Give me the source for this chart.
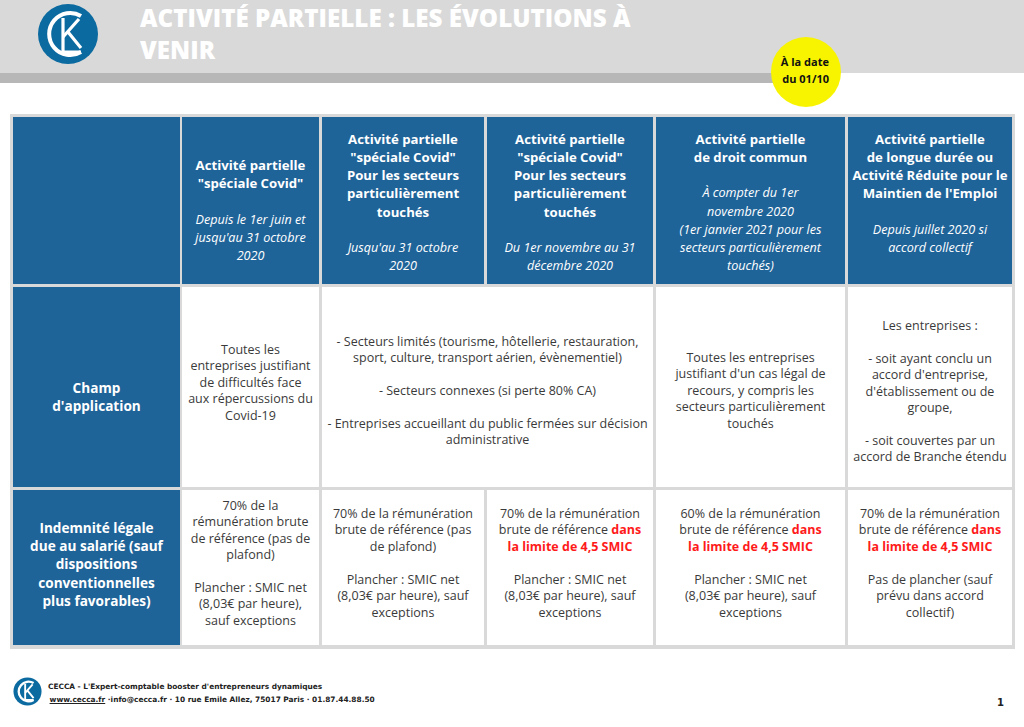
<!DOCTYPE html>
<html lang="fr">
<head>
<meta charset="utf-8">
<title>Activité partielle : les évolutions à venir</title>
<script src="https://cdn.jsdelivr.net/npm/chart.js@4/dist/chart.umd.min.js"></script>
<style>
  html, body { margin: 0; padding: 0; background: #fff; }
  body { width: 1024px; height: 727px; position: relative; overflow: hidden; font-family: "Open Sans", sans-serif; }
  .band { position: absolute; left: 0; top: 0; width: 1024px; height: 73px; background: #d9d9d9; }
  .strip { position: absolute; left: 0; top: 73px; width: 790px; height: 10px; background: #b7b7b7; }
  .title { position: absolute; left: 140px; top: 2px; color: #fff; font-weight: 800; font-size: 24.2px; line-height: 32px; }
  .badge { position: absolute; left: 771px; top: 37px; width: 70px; height: 70px; border-radius: 50%; background: #f8f400;
           font-weight: 700; font-size: 11px; line-height: 17px; color: #111; text-align: right; box-sizing: border-box; padding: 16px 12px 0 0; }
  .grid { position: absolute; left: 10px; top: 114px; width: 1005px; height: 535px; background: #d9d9d9; }
  .cell { position: absolute; display: flex; align-items: center; justify-content: center; text-align: center; box-sizing: border-box; }
  .head { background: #1f6499; color: #fff; }
  .body { background: #fff; color: #3a3a3a; font-size: 12.5px; line-height: 16.4px; }
  .ht { font-weight: 700; font-size: 13.2px; line-height: 18.2px; }
  .hd { font-style: italic; font-size: 12.6px; line-height: 18.2px; }
  .rl { font-weight: 700; font-size: 13.6px; line-height: 18.2px; }
  .red { color: #ff1a1a; font-weight: 700; }
  .foot { position: absolute; font-family: "DejaVu Sans", sans-serif; font-weight: 700; font-size: 7.4px; color: #222; white-space: pre; }
  .foot u { text-decoration: underline; }
  .page { position: absolute; left: 997px; top: 697px; font-family: "DejaVu Sans", sans-serif; font-weight: 700; font-size: 10px; color: #222; }
  canvas#c { position: absolute; left: 0; top: 0; width: 1px; height: 1px; opacity: 0; }
</style>
</head>
<body>
<div class="band"></div>
<div class="strip"></div>

<svg style="position:absolute;left:37px;top:3px" width="62" height="62" viewBox="0 0 62 62">
  <circle cx="31" cy="31" r="30" fill="#0b6aa0"/>
  <path d="M44 13 A21 21 0 1 0 44 49" fill="none" stroke="#fff" stroke-width="4"/>
  <path d="M26 15 L26 49 L44 49" fill="none" stroke="#fff" stroke-width="3.2"/>
  <path d="M26 34 L42 16 M31 29 L44 45" fill="none" stroke="#fff" stroke-width="3.2"/>
</svg>

<div class="title" id="title"></div>
<div class="badge" id="badge"></div>

<div class="grid" id="grid"></div>

<svg style="position:absolute;left:13px;top:677px" width="29" height="29" viewBox="0 0 62 62">
  <circle cx="31" cy="31" r="30" fill="#0b6aa0"/>
  <path d="M44 13 A21 21 0 1 0 44 49" fill="none" stroke="#fff" stroke-width="5"/>
  <path d="M26 15 L26 49 L44 49" fill="none" stroke="#fff" stroke-width="4"/>
  <path d="M26 34 L42 16 M31 29 L44 45" fill="none" stroke="#fff" stroke-width="4"/>
</svg>
<div class="foot" id="foot1" style="left:48px;top:682px"></div>
<div class="foot" id="foot2" style="left:47px;top:695px"></div>
<div class="page">1</div>
<canvas id="c"></canvas>

<script>
// page texts
var titleLines = ["ACTIVITÉ PARTIELLE : LES ÉVOLUTIONS À", "VENIR"];
var badgeLines = ["À la date", "du 01/10"];

// column headers (title lines, then italic date lines)
var headTitles = [
  ["Activité partielle", "\"spéciale Covid\""],
  ["Activité partielle", "\"spéciale Covid\"", "Pour les secteurs", "particulièrement", "touchés"],
  ["Activité partielle", "\"spéciale Covid\"", "Pour les secteurs", "particulièrement", "touchés"],
  ["Activité partielle", "de droit commun"],
  ["Activité partielle", "de longue durée ou", "Activité Réduite pour le", "Maintien de l'Emploi"]
];
var headDates = [
  ["Depuis le 1er juin et", "jusqu'au 31 octobre", "2020"],
  ["Jusqu'au 31 octobre", "2020"],
  ["Du 1er novembre au 31", "décembre 2020"],
  ["À compter du 1er", "novembre 2020", "(1er janvier 2021 pour les", "secteurs particulièrement", "touchés)"],
  ["Depuis juillet 2020 si", "accord collectif"]
];

// row labels
var rowLabels = [
  ["Champ", "d'application"],
  ["Indemnité légale", "due au salarié (sauf", "dispositions", "conventionnelles", "plus favorables)"]
];

// "Champ d'application" row: cols 3 and 4 share one cell
var champCells = [
  ["Toutes les", "entreprises justifiant", "de difficultés face", "aux répercussions du", "Covid-19"],
  ["- Secteurs limités (tourisme, hôtellerie, restauration,", "sport, culture, transport aérien, évènementiel)", "",
   "- Secteurs connexes (si perte 80% CA)", "",
   "- Entreprises accueillant du public fermées sur décision", "administrative"],
  ["Toutes les entreprises", "justifiant d'un cas légal de", "recours, y compris les", "secteurs particulièrement", "touchés"],
  ["Les entreprises :", "", "- soit ayant conclu un", "accord d'entreprise,", "d'établissement ou de", "groupe,", "",
   "- soit couvertes par un", "accord de Branche étendu"]
];

// "Indemnité" row, [plain, red] per line
var indemCells = [
  [["70% de la"], ["rémunération brute"], ["de référence (pas de"], ["plafond)"], [""],
   ["Plancher : SMIC net"], ["(8,03€ par heure),"], ["sauf exceptions"]],
  [["70% de la rémunération"], ["brute de référence (pas"], ["de plafond)"], [""],
   ["Plancher : SMIC net"], ["(8,03€ par heure), sauf"], ["exceptions"]],
  [["70% de la rémunération"], ["brute de référence ", "dans"], ["", "la limite de 4,5 SMIC"], [""],
   ["Plancher : SMIC net"], ["(8,03€ par heure), sauf"], ["exceptions"]],
  [["60% de la rémunération"], ["brute de référence ", "dans"], ["", "la limite de 4,5 SMIC"], [""],
   ["Plancher : SMIC net"], ["(8,03€ par heure), sauf"], ["exceptions"]],
  [["70% de la rémunération"], ["brute de référence ", "dans"], ["", "la limite de 4,5 SMIC"], [""],
   ["Pas de plancher (sauf"], ["prévu dans accord"], ["collectif)"]]
];

var footLine1 = "CECCA - L'Expert-comptable booster d'entrepreneurs dynamiques";
var footLinks = ["www.cecca.fr", "info@cecca.fr", "10 rue Emile Allez, 75017 Paris", "01.87.44.88.50"];

// grid geometry (inside .grid, which starts at 10,114)
var colX = [3, 172, 312, 477, 646, 838];
var colW = [167, 137, 162, 166, 189, 164];
var rowY = [3, 173, 376];
var rowH = [167, 200, 155];

function esc(s) {
  return s.replace(/&/g, "&amp;").replace(/</g, "&lt;");
}

function linesHtml(lines) {
  return lines.map(function (l) { return l ? esc(l) : "&nbsp;"; }).join("<br>");
}

function addCell(grid, col, row, span, cls, html, shiftY) {
  var d = document.createElement("div");
  d.className = "cell " + cls;
  var w = colW[col];
  for (var i = 1; i < span; i++) w += colW[col + i] + (colX[col + i] - colX[col + i - 1] - colW[col + i - 1]);
  d.style.left = colX[col] + "px";
  d.style.top = rowY[row] + "px";
  d.style.width = w + "px";
  d.style.height = rowH[row] + "px";
  d.innerHTML = "<div style='position:relative;top:" + (shiftY || 0) + "px'>" + html + "</div>";
  grid.appendChild(d);
}

document.addEventListener("DOMContentLoaded", function () {
  document.getElementById("title").innerHTML = linesHtml(titleLines);
  document.getElementById("badge").innerHTML = linesHtml(badgeLines);
  document.getElementById("foot1").textContent = footLine1;
  document.getElementById("foot2").innerHTML = " <u>" + footLinks[0] + "</u> ·" + footLinks.slice(1).join(" · ");

  var grid = document.getElementById("grid");
  var headShift = [10, 2, 2, 2, -7];

  // header row
  addCell(grid, 0, 0, 1, "head", "");
  headTitles.forEach(function (t, i) {
    var html = "<div class='ht'>" + linesHtml(t) + "</div><div class='hd'>&nbsp;<br>" + linesHtml(headDates[i]) + "</div>";
    addCell(grid, i + 1, 0, 1, "head", html, headShift[i]);
  });

  // champ d'application row
  addCell(grid, 0, 1, 1, "head", "<div class='rl'>" + linesHtml(rowLabels[0]) + "</div>", 10);
  addCell(grid, 1, 1, 1, "body", linesHtml(champCells[0]), -4);
  addCell(grid, 2, 1, 2, "body", linesHtml(champCells[1]), 4);
  addCell(grid, 4, 1, 1, "body", linesHtml(champCells[2]), 4);
  addCell(grid, 5, 1, 1, "body", linesHtml(champCells[3]), 5);

  // indemnité row
  addCell(grid, 0, 2, 1, "head", "<div class='rl'>" + linesHtml(rowLabels[1]) + "</div>", -3);
  indemCells.forEach(function (cell, i) {
    var html = cell.map(function (l) {
      var s = l[0] ? esc(l[0]) : "";
      if (l[1]) s += "<span class='red'>" + esc(l[1]) + "</span>";
      return s || "&nbsp;";
    }).join("<br>");
    addCell(grid, i + 1, 2, 1, "body", html, -4);
  });
});
</script>
</body>
</html>
